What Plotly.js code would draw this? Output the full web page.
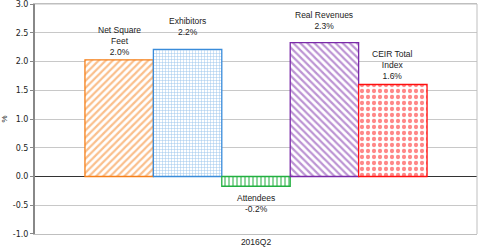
<!DOCTYPE html>
<html><head><meta charset="utf-8">
<script src="https://cdn.plot.ly/plotly-3.0.1.min.js"></script>
<style>html,body{margin:0;padding:0;background:#fff}#c{width:480px;height:251px}</style>
</head><body><div id="c"></div>
<script>
const category = '2016Q2';
const seriesNames = ['Net Square<br>Feet', 'Exhibitors', 'Attendees', 'Real Revenues', 'CEIR Total<br>Index'];
const seriesValues = [2.03, 2.21, -0.17, 2.33, 1.60];
const valueLabels = ['2.0%', '2.2%', '-0.2%', '2.3%', '1.6%'];
const yTicks = [-1.0, -0.5, 0.0, 0.5, 1.0, 1.5, 2.0, 2.5, 3.0];

const colors = ['#F5801A', '#3A8CDA', '#22B040', '#7A2AA8', '#FF1010'];
const shapes = ['/', '+', '|', '\\', '.'];
const psize = [5, 3, 4, 5, 6];
const psol = [0.45, 0.3, 0.5, 0.45, 0.4];
const labelShift = [1, 10, -5, 10, 2];

const bargap = 0.226;
const n = seriesValues.length;
const bw = (1 - bargap) / n;

const traces = seriesValues.map((v, i) => ({
  type: 'bar', x: [category], y: [v], name: seriesNames[i],
  marker: {color: '#ffffff', line: {color: colors[i], width: 1.3},
    pattern: {shape: shapes[i], fgcolor: colors[i], bgcolor: '#ffffff', size: psize[i], solidity: psol[i], fillmode: 'overlay'}},
  hoverinfo: 'skip'
}));

const annotations = seriesValues.map((v, i) => ({
  xref: 'x', yref: 'y', x: -(1 - bargap) / 2 + bw * (i + 0.5), y: v,
  text: seriesNames[i] + '<br>' + valueLabels[i],
  showarrow: false, xanchor: 'center', yanchor: v >= 0 ? 'bottom' : 'top',
  yshift: labelShift[i],
  font: {family: 'Liberation Sans', size: 8.5, color: '#222'}, align: 'center'
}));

Plotly.newPlot('c', traces, {
  width: 480, height: 251,
  margin: {l: 35, r: 3, t: 4, b: 17},
  paper_bgcolor: '#fff', plot_bgcolor: '#fff',
  showlegend: false, barmode: 'group', bargap: bargap, bargroupgap: 0,
  font: {family: 'Liberation Sans', size: 8.5, color: '#222'},
  xaxis: {type: 'category', showgrid: false, showline: true, linecolor: '#bfbfbf', mirror: true,
    ticks: '', tickfont: {size: 8.5}, zeroline: false},
  yaxis: {range: [-1.0005, 3.0005], tickvals: yTicks, ticktext: yTicks.map(t => t.toFixed(1)), showgrid: true, gridcolor: '#c8c8c8',
    ticklabeloverflow: 'allow',
    zeroline: true, zerolinecolor: '#333', zerolinewidth: 1.5,
    showline: true, linecolor: '#888', linewidth: 2, mirror: false,
    ticks: 'outside', ticklen: 3, tickcolor: '#888',
    tickfont: {family: 'DejaVu Sans', size: 8, color: '#222'},
    title: {text: '%', font: {size: 8}, standoff: 10}},
  shapes: [{type: 'line', xref: 'paper', yref: 'paper', x0: 1, x1: 1, y0: 0, y1: 1, line: {color: '#bfbfbf', width: 1}},
           {type: 'line', xref: 'paper', yref: 'paper', x0: 0, x1: 1, y0: 1, y1: 1, line: {color: '#bfbfbf', width: 1}}],
  annotations: annotations
}, {staticPlot: true});
</script></body></html>
